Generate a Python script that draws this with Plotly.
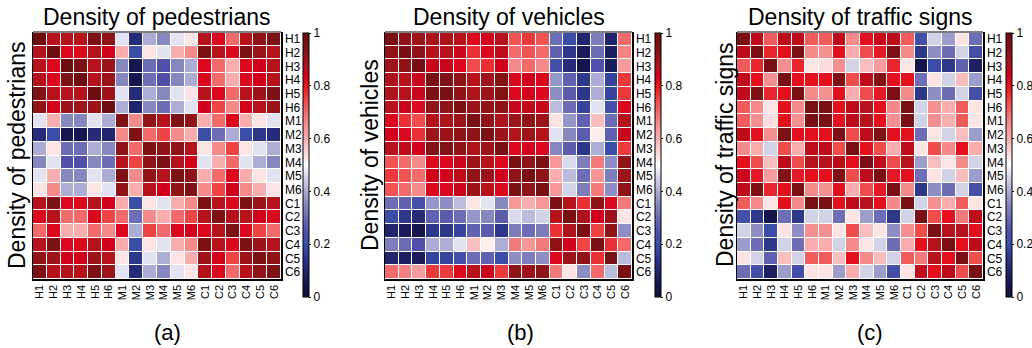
import plotly.graph_objects as go

labels = ["H1", "H2", "H3", "H4", "H5", "H6", "M1", "M2", "M3", "M4", "M5", "M6",
          "C1", "C2", "C3", "C4", "C5", "C6"]

titles = ["Density of pedestrians", "Density of vehicles", "Density of traffic signs"]
panel_tags = ["(a)", "(b)", "(c)"]
cbar_vals = [0, 0.2, 0.4, 0.6, 0.8, 1]
cbar_text = ["0", "0.2", "0.4", "0.6", "0.8", "1"]

pedestrians = [
    [1.0, 0.87, 0.87, 0.87, 0.95, 0.92, 0.47, 0.12, 0.4, 0.35, 0.47, 0.53, 0.87, 0.82, 0.7, 0.87, 0.92, 0.95],
    [0.87, 1.0, 0.82, 0.82, 0.87, 0.84, 0.6, 0.2, 0.53, 0.47, 0.6, 0.66, 0.95, 0.87, 0.82, 0.95, 0.9, 0.87],
    [0.87, 0.82, 1.0, 0.95, 0.87, 0.9, 0.35, 0.05, 0.3, 0.25, 0.35, 0.4, 0.82, 0.7, 0.6, 0.82, 0.84, 0.87],
    [0.87, 0.82, 0.95, 1.0, 0.87, 0.9, 0.35, 0.05, 0.3, 0.25, 0.35, 0.4, 0.82, 0.7, 0.6, 0.82, 0.84, 0.87],
    [0.95, 0.87, 0.87, 0.87, 1.0, 0.9, 0.47, 0.12, 0.4, 0.35, 0.47, 0.53, 0.87, 0.82, 0.7, 0.87, 0.9, 0.95],
    [0.92, 0.84, 0.9, 0.9, 0.9, 1.0, 0.4, 0.1, 0.35, 0.3, 0.4, 0.47, 0.84, 0.75, 0.66, 0.84, 0.87, 0.9],
    [0.47, 0.6, 0.35, 0.35, 0.47, 0.4, 0.95, 0.66, 0.92, 0.87, 0.95, 0.92, 0.6, 0.7, 0.82, 0.6, 0.53, 0.47],
    [0.12, 0.2, 0.05, 0.05, 0.12, 0.1, 0.66, 0.95, 0.7, 0.75, 0.66, 0.6, 0.2, 0.3, 0.4, 0.2, 0.15, 0.12],
    [0.4, 0.53, 0.3, 0.3, 0.4, 0.35, 0.92, 0.7, 0.95, 0.92, 0.92, 0.87, 0.53, 0.66, 0.75, 0.53, 0.47, 0.4],
    [0.35, 0.47, 0.25, 0.25, 0.35, 0.3, 0.87, 0.75, 0.92, 0.95, 0.87, 0.84, 0.47, 0.6, 0.7, 0.47, 0.4, 0.35],
    [0.47, 0.6, 0.35, 0.35, 0.47, 0.4, 0.95, 0.66, 0.92, 0.87, 0.95, 0.92, 0.6, 0.7, 0.82, 0.6, 0.53, 0.47],
    [0.53, 0.66, 0.4, 0.4, 0.53, 0.47, 0.92, 0.6, 0.87, 0.84, 0.92, 0.95, 0.66, 0.75, 0.84, 0.66, 0.6, 0.53],
    [0.87, 0.95, 0.82, 0.82, 0.87, 0.84, 0.6, 0.2, 0.53, 0.47, 0.6, 0.66, 0.95, 0.87, 0.82, 0.95, 0.9, 0.87],
    [0.82, 0.87, 0.7, 0.7, 0.82, 0.75, 0.7, 0.3, 0.66, 0.6, 0.7, 0.75, 0.87, 0.95, 0.87, 0.87, 0.84, 0.82],
    [0.7, 0.82, 0.6, 0.6, 0.7, 0.66, 0.82, 0.4, 0.75, 0.7, 0.82, 0.84, 0.82, 0.87, 0.95, 0.82, 0.75, 0.7],
    [0.87, 0.95, 0.82, 0.82, 0.87, 0.84, 0.6, 0.2, 0.53, 0.47, 0.6, 0.66, 0.95, 0.87, 0.82, 0.95, 0.9, 0.87],
    [0.92, 0.9, 0.84, 0.84, 0.9, 0.87, 0.53, 0.15, 0.47, 0.4, 0.53, 0.6, 0.9, 0.84, 0.75, 0.9, 0.95, 0.92],
    [0.95, 0.87, 0.87, 0.87, 0.95, 0.9, 0.47, 0.12, 0.4, 0.35, 0.47, 0.53, 0.87, 0.82, 0.7, 0.87, 0.92, 0.95],
]

vehicles = [
    [0.97, 0.92, 0.9, 0.88, 0.88, 0.87, 0.82, 0.84, 0.87, 0.73, 0.76, 0.73, 0.3, 0.2, 0.1, 0.33, 0.1, 0.7],
    [0.92, 0.97, 0.92, 0.87, 0.87, 0.85, 0.77, 0.82, 0.86, 0.7, 0.73, 0.7, 0.28, 0.15, 0.07, 0.3, 0.08, 0.67],
    [0.9, 0.92, 0.97, 0.85, 0.85, 0.82, 0.74, 0.77, 0.84, 0.66, 0.7, 0.66, 0.22, 0.12, 0.04, 0.25, 0.07, 0.63],
    [0.88, 0.87, 0.85, 0.96, 0.95, 0.92, 0.87, 0.9, 0.94, 0.82, 0.84, 0.82, 0.37, 0.28, 0.15, 0.4, 0.18, 0.76],
    [0.88, 0.87, 0.85, 0.95, 0.96, 0.92, 0.88, 0.9, 0.94, 0.82, 0.84, 0.82, 0.36, 0.27, 0.15, 0.4, 0.18, 0.76],
    [0.87, 0.85, 0.82, 0.92, 0.92, 0.96, 0.9, 0.92, 0.92, 0.85, 0.86, 0.85, 0.42, 0.3, 0.18, 0.47, 0.22, 0.82],
    [0.82, 0.77, 0.74, 0.87, 0.88, 0.9, 0.96, 0.92, 0.88, 0.9, 0.92, 0.9, 0.53, 0.37, 0.28, 0.58, 0.3, 0.87],
    [0.84, 0.82, 0.77, 0.9, 0.9, 0.92, 0.92, 0.96, 0.9, 0.87, 0.9, 0.87, 0.47, 0.35, 0.27, 0.52, 0.28, 0.85],
    [0.87, 0.86, 0.84, 0.94, 0.94, 0.92, 0.88, 0.9, 0.96, 0.82, 0.84, 0.82, 0.35, 0.27, 0.15, 0.4, 0.2, 0.76],
    [0.73, 0.7, 0.66, 0.82, 0.82, 0.85, 0.9, 0.87, 0.82, 0.96, 0.92, 0.95, 0.64, 0.46, 0.33, 0.68, 0.36, 0.92],
    [0.76, 0.73, 0.7, 0.84, 0.84, 0.86, 0.92, 0.9, 0.84, 0.92, 0.96, 0.92, 0.6, 0.42, 0.3, 0.64, 0.33, 0.9],
    [0.73, 0.7, 0.66, 0.82, 0.82, 0.85, 0.9, 0.87, 0.82, 0.95, 0.92, 0.96, 0.64, 0.45, 0.33, 0.68, 0.36, 0.92],
    [0.3, 0.28, 0.22, 0.37, 0.36, 0.42, 0.53, 0.47, 0.35, 0.64, 0.6, 0.64, 0.96, 0.87, 0.77, 0.92, 0.82, 0.68],
    [0.2, 0.15, 0.12, 0.28, 0.27, 0.3, 0.37, 0.35, 0.27, 0.46, 0.42, 0.45, 0.87, 0.96, 0.88, 0.84, 0.9, 0.53],
    [0.1, 0.07, 0.04, 0.15, 0.15, 0.18, 0.28, 0.27, 0.15, 0.33, 0.3, 0.33, 0.77, 0.88, 0.96, 0.75, 0.92, 0.36],
    [0.33, 0.3, 0.25, 0.4, 0.4, 0.47, 0.58, 0.52, 0.4, 0.68, 0.64, 0.68, 0.92, 0.84, 0.75, 0.96, 0.77, 0.7],
    [0.1, 0.08, 0.07, 0.18, 0.18, 0.22, 0.3, 0.28, 0.2, 0.36, 0.33, 0.36, 0.82, 0.9, 0.92, 0.77, 0.96, 0.42],
    [0.7, 0.67, 0.63, 0.76, 0.76, 0.82, 0.87, 0.85, 0.76, 0.92, 0.9, 0.92, 0.68, 0.53, 0.36, 0.7, 0.42, 0.96],
]

traffic_signs = [
    [0.96, 0.86, 0.72, 0.86, 0.86, 0.72, 0.72, 0.86, 0.66, 0.8, 0.85, 0.86, 0.72, 0.22, 0.45, 0.38, 0.53, 0.3],
    [0.86, 0.96, 0.78, 0.8, 0.95, 0.66, 0.65, 0.8, 0.6, 0.74, 0.79, 0.95, 0.66, 0.15, 0.36, 0.3, 0.45, 0.22],
    [0.72, 0.78, 0.96, 0.65, 0.78, 0.53, 0.54, 0.65, 0.45, 0.58, 0.63, 0.78, 0.53, 0.04, 0.2, 0.15, 0.28, 0.08],
    [0.86, 0.8, 0.65, 0.96, 0.8, 0.8, 0.8, 0.95, 0.74, 0.86, 0.94, 0.8, 0.8, 0.3, 0.53, 0.45, 0.58, 0.38],
    [0.86, 0.95, 0.78, 0.8, 0.96, 0.66, 0.65, 0.8, 0.6, 0.74, 0.79, 0.95, 0.66, 0.15, 0.36, 0.3, 0.45, 0.22],
    [0.72, 0.66, 0.53, 0.8, 0.66, 0.96, 0.96, 0.8, 0.86, 0.87, 0.8, 0.66, 0.96, 0.45, 0.65, 0.6, 0.72, 0.53],
    [0.72, 0.65, 0.54, 0.8, 0.65, 0.96, 0.96, 0.8, 0.86, 0.87, 0.8, 0.65, 0.96, 0.45, 0.65, 0.6, 0.72, 0.53],
    [0.86, 0.8, 0.65, 0.95, 0.8, 0.8, 0.8, 0.96, 0.74, 0.86, 0.95, 0.8, 0.8, 0.3, 0.53, 0.45, 0.58, 0.38],
    [0.66, 0.6, 0.45, 0.74, 0.6, 0.86, 0.86, 0.74, 0.96, 0.8, 0.74, 0.6, 0.86, 0.53, 0.74, 0.66, 0.8, 0.6],
    [0.8, 0.74, 0.58, 0.86, 0.74, 0.87, 0.87, 0.86, 0.8, 0.96, 0.86, 0.74, 0.87, 0.38, 0.58, 0.53, 0.66, 0.45],
    [0.85, 0.79, 0.63, 0.94, 0.79, 0.8, 0.8, 0.95, 0.74, 0.86, 0.96, 0.79, 0.8, 0.3, 0.53, 0.45, 0.58, 0.38],
    [0.86, 0.95, 0.78, 0.8, 0.95, 0.66, 0.65, 0.8, 0.6, 0.74, 0.79, 0.96, 0.66, 0.15, 0.36, 0.3, 0.45, 0.22],
    [0.72, 0.66, 0.53, 0.8, 0.66, 0.96, 0.96, 0.8, 0.86, 0.87, 0.8, 0.66, 0.96, 0.45, 0.65, 0.6, 0.72, 0.53],
    [0.22, 0.15, 0.04, 0.3, 0.15, 0.45, 0.45, 0.3, 0.53, 0.38, 0.3, 0.15, 0.45, 0.96, 0.74, 0.8, 0.68, 0.86],
    [0.45, 0.36, 0.2, 0.53, 0.36, 0.65, 0.65, 0.53, 0.74, 0.58, 0.53, 0.36, 0.65, 0.74, 0.96, 0.87, 0.87, 0.8],
    [0.38, 0.3, 0.15, 0.45, 0.3, 0.6, 0.6, 0.45, 0.66, 0.53, 0.45, 0.3, 0.6, 0.8, 0.87, 0.96, 0.8, 0.86],
    [0.53, 0.45, 0.28, 0.58, 0.45, 0.72, 0.72, 0.58, 0.8, 0.66, 0.58, 0.45, 0.72, 0.68, 0.87, 0.8, 0.96, 0.74],
    [0.3, 0.22, 0.08, 0.38, 0.22, 0.53, 0.53, 0.38, 0.6, 0.45, 0.38, 0.22, 0.53, 0.86, 0.8, 0.86, 0.74, 0.96],
]

matrices = [pedestrians, vehicles, traffic_signs]

colorscale = [
    [0.0, "#10103c"], [0.05, "#161650"], [0.12, "#262b7a"], [0.2, "#3a4ea8"],
    [0.25, "#5050aa"], [0.3, "#6d6db5"], [0.35, "#8787c0"], [0.4, "#acacd4"],
    [0.47, "#e2e2f0"], [0.5, "#ffffff"], [0.53, "#fde4e4"], [0.6, "#f9adad"],
    [0.66, "#f48a8a"], [0.7, "#f26a6a"], [0.75, "#ee4444"], [0.8, "#e4101e"],
    [0.84, "#d3001c"], [0.87, "#b5121b"], [0.9, "#9c1419"], [0.95, "#7d1114"],
    [1.0, "#6e0c10"],
]

W, H = 1032, 348
FONT = "Liberation Sans, Arial, sans-serif"

# pixel layout: (left, right) of each heatmap, top/bottom shared
x_px = [(33, 281), (385, 632), (737, 983)]
top_px, bot_px = 32, 279
cbar_left_px = [303, 655, 1006]
ytitle_x_px = [17, 370, 725]
tag_x_px = [167, 520, 870]

fig = go.Figure()
layout = dict(
    width=W, height=H,
    margin=dict(l=0, r=0, t=0, b=0, pad=0, autoexpand=False),
    paper_bgcolor="white", plot_bgcolor="white",
    font=dict(family=FONT, color="black"),
    showlegend=False,
)
annotations = []
shapes = []

for i in range(3):
    sfx = "" if i == 0 else str(i + 1)
    xa, ya = "x" + sfx, "y" + sfx
    x0, x1 = x_px[i][0] / W, x_px[i][1] / W
    y0, y1 = 1 - bot_px / H, 1 - top_px / H
    fig.add_trace(go.Heatmap(
        z=matrices[i], x=labels, y=labels, xaxis=xa, yaxis=ya,
        zmin=0, zmax=1, colorscale=colorscale, xgap=1, ygap=1,
        colorbar=dict(
            x=cbar_left_px[i] / W, xanchor="left", xpad=0,
            y=1 - ((33 + 297) / 2) / H, yanchor="middle", ypad=0,
            len=264, lenmode="pixels", thickness=6, thicknessmode="pixels",
            outlinecolor="black", outlinewidth=1,
            tickvals=cbar_vals, ticktext=cbar_text,
            ticks="outside", ticklen=2, tickcolor="black",
            tickfont=dict(size=12, family=FONT, color="black"),
        ),
    ))
    layout["xaxis" + sfx] = dict(
        domain=[x0, x1], anchor=ya, showgrid=False, zeroline=False,
        tickmode="array", tickvals=labels, ticktext=labels,
        tickangle=-90, tickfont=dict(size=11), ticks="",
        showline=True, linecolor="black", linewidth=1.5,
    )
    layout["yaxis" + sfx] = dict(
        domain=[y0, y1], anchor=xa, side="right", autorange="reversed",
        tickmode="array", tickvals=labels, ticktext=labels,
        showgrid=False, zeroline=False, tickfont=dict(size=12), ticks="",
        showline=True, linecolor="black", linewidth=1.5, mirror=True,
    )
    shapes.append(dict(type="line", xref="paper", yref="paper",
                       x0=x0, x1=x1, y0=y1, y1=y1,
                       line=dict(color="#808080", width=2)))
    annotations.append(dict(text=titles[i], xref="paper", yref="paper",
                            x=(x0 + x1) / 2, y=1 - 17 / H, xanchor="center",
                            yanchor="middle", showarrow=False,
                            font=dict(size=23, family=FONT)))
    annotations.append(dict(text=titles[i], xref="paper", yref="paper",
                            x=ytitle_x_px[i] / W, y=1 - 155 / H,
                            xanchor="center", yanchor="middle",
                            textangle=-90, showarrow=False,
                            font=dict(size=23, family=FONT)))
    annotations.append(dict(text=panel_tags[i], xref="paper", yref="paper",
                            x=tag_x_px[i] / W, y=1 - 332 / H,
                            xanchor="center", yanchor="middle",
                            showarrow=False, font=dict(size=22, family=FONT)))

layout["annotations"] = annotations
layout["shapes"] = shapes
fig.update_layout(**layout)
fig.write_html(
    "out.html",
    config={"displayModeBar": False, "staticPlot": True},
    post_script="document.body.style.margin='0';document.body.style.overflow='hidden';",
)
